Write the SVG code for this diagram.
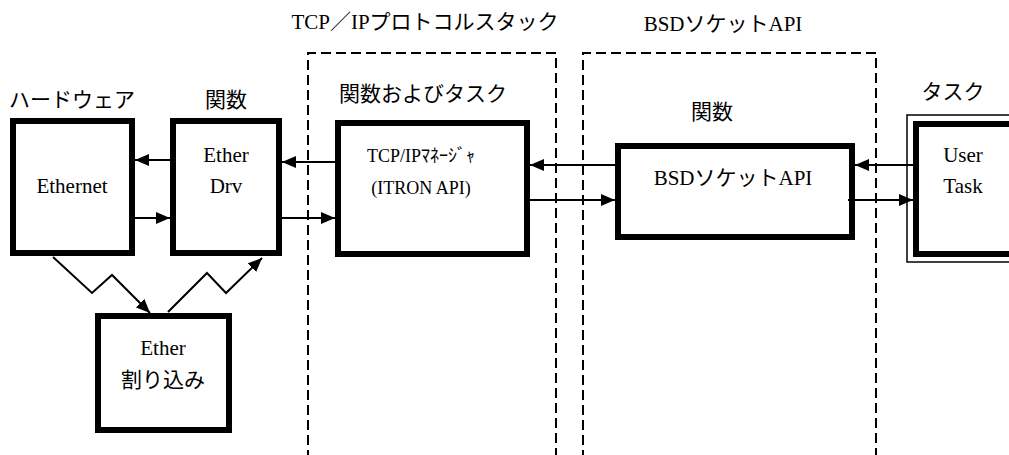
<svg xmlns="http://www.w3.org/2000/svg" width="1009" height="455" viewBox="0 0 1009 455">
<style>
text{font-family:"Liberation Serif","Noto Sans CJK JP",serif;font-size:21px;fill:#000;text-anchor:middle}
.sm{font-size:18px}
.box{fill:#fff;stroke:#000;stroke-width:6}
.thin{fill:#fff;stroke:#000;stroke-width:1.5}
.dash{fill:none;stroke:#000;stroke-width:2;stroke-dasharray:10,5}
.conn{fill:none;stroke:#000;stroke-width:2;marker-end:url(#ah)}
</style>
<defs>
<marker id="ah" viewBox="0 0 14 12" refX="14" refY="6" markerWidth="14" markerHeight="12" markerUnits="userSpaceOnUse" orient="auto">
<path d="M0,0 L14,6 L0,12 z" fill="#000"/>
</marker>
</defs>
<rect width="1009" height="455" fill="#fff"/>
<g id="stack-frame">
<path class="dash" d="M308,460 V53 H556 V460"/>
<text x="425" y="29">TCP／IPプロトコルスタック</text>
<text x="423" y="101">関数およびタスク</text>
</g>
<g id="bsd-frame">
<path class="dash" d="M583,460 V53 H876 V460"/>
<text x="723" y="31">BSDソケットAPI</text>
<text x="712" y="119">関数</text>
</g>
<g id="ethernet">
<text x="72" y="107">ハードウェア</text>
<rect class="box" x="13" y="121" width="119" height="132"/>
<text x="72" y="193">Ethernet</text>
</g>
<g id="etherdrv">
<text x="226" y="107">関数</text>
<rect class="box" x="173" y="121" width="106" height="132"/>
<text x="226" y="162">Ether</text>
<text x="226" y="193">Drv</text>
</g>
<g id="tcpip">
<rect class="box" x="338" y="123" width="189" height="131"/>
<text class="sm" x="421" y="162">TCP/IPﾏﾈｰｼﾞｬ</text>
<text class="sm" x="421" y="194">(ITRON API)</text>
</g>
<g id="bsd">
<rect class="box" x="618" y="146" width="234" height="91"/>
<text x="733" y="185">BSDソケットAPI</text>
</g>
<g id="usertask">
<text x="953" y="99">タスク</text>
<rect class="thin" x="907" y="115" width="110" height="147"/>
<rect class="box" x="916" y="124" width="100" height="130"/>
<text x="963" y="162">User</text>
<text x="963" y="193">Task</text>
</g>
<g id="etherint">
<rect class="box" x="98" y="316" width="131" height="114"/>
<text x="163" y="355">Ether</text>
<text x="163" y="387">割り込み</text>
</g>
<g id="connectors">
<path class="conn" d="M170,160 H135"/>
<path class="conn" d="M135,218 H170"/>
<path class="conn" d="M335,162 H282"/>
<path class="conn" d="M282,218 H335"/>
<path class="conn" d="M615,165 H530"/>
<path class="conn" d="M530,200 H615"/>
<path class="conn" d="M913,165 H855"/>
<path class="conn" d="M848,200 H913"/>
<path class="conn" d="M53,257 L92,293 L112,275 L150,313"/>
<path class="conn" d="M168,312 L207,273 L226,293 L262,258"/>
</g>
</svg>
